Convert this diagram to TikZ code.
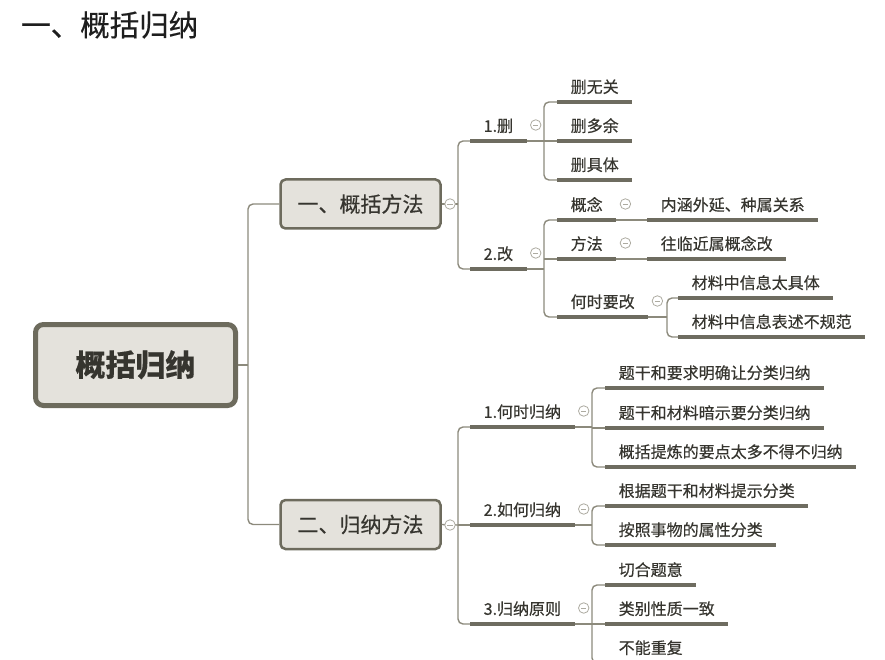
\documentclass[tikz,border=0pt]{standalone}
\usepackage{fontspec}
\newfontfamily\cjk[FakeBold=0.45]{Noto Sans CJK SC}
\newfontfamily\cjkbf{Noto Sans CJK SC Bold}
\usetikzlibrary{calc}
\definecolor{conncol}{HTML}{8C8A7C}
\definecolor{ulcol}{HTML}{6E6C60}
\definecolor{boxfill}{HTML}{E4E2DC}
\definecolor{boxline}{HTML}{6D6B5D}
\definecolor{txtcol}{HTML}{36352F}
\definecolor{collcol}{HTML}{ADABA1}
\definecolor{titlecol}{HTML}{1E1E1E}
\begin{document}
\begin{tikzpicture}[x=1pt,y=-1pt,
  conn/.style={draw=conncol, line width=1.4pt, rounded corners=5pt},
  ul/.style={draw=ulcol, line width=3.2pt},
  leaf/.style={anchor=south west, inner xsep=13.5pt, inner ysep=7pt,
    text height=14pt, text depth=2pt, font=\cjk\fontsize{16}{16}\selectfont, text=txtcol},
  lvone/.style={draw=boxline, fill=boxfill, line width=2.5pt, rounded corners=5pt,
    minimum width=160pt, minimum height=49pt, inner sep=0pt,
    text height=18.5pt, text depth=2.5pt, font=\cjk\fontsize{21}{21}\selectfont, text=txtcol},
  rootbox/.style={draw=boxline, fill=boxfill, line width=5pt, rounded corners=8pt,
    minimum width=200pt, minimum height=81pt, inner sep=0pt,
    text height=26pt, text depth=4pt, font=\cjk\bfseries\fontsize{30}{30}\selectfont, text=txtcol},
  coll/.style={circle, draw=collcol, fill=white, line width=0.8pt, minimum size=10.5pt, inner sep=0pt,
    path picture={\draw[collcol, line width=0.8pt]
      ($(path picture bounding box.center)+(-2.6pt,0pt)$) -- ($(path picture bounding box.center)+(2.6pt,0pt)$);}}
]
\useasboundingbox (0,0) rectangle (885,660);

% title
\node[anchor=west, inner sep=0pt, text height=25.6pt, text depth=3.4pt,
  font=\cjk\fontsize{29.5}{29.5}\selectfont, text=titlecol] (title) at (21,25) {一、概括归纳};

% boxes
\node[rootbox] (root) at (135.5,365) {概括归纳};
\node[lvone] (L1) at (360.5,204) {一、概括方法};
\node[lvone] (L2) at (360.5,524.5) {二、归纳方法};

% first branch
\node[leaf] (a1) at (470,141) {1.删};
\node[leaf] (a2) at (470,269) {2.改};
\node[leaf] (a11) at (557,102) {删无关};
\node[leaf] (a12) at (557,141) {删多余};
\node[leaf] (a13) at (557,180) {删具体};
\node[leaf] (a21) at (557,220) {概念};
\node[leaf] (a22) at (557,259) {方法};
\node[leaf] (a23) at (557,317) {何时要改};
\node[leaf] (a211) at (647,220) {内涵外延、种属关系};
\node[leaf] (a221) at (647,259) {往临近属概念改};
\node[leaf] (a231) at (678,298) {材料中信息太具体};
\node[leaf] (a232) at (678,337) {材料中信息表述不规范};

% second branch
\node[leaf] (b1) at (470,427) {1.何时归纳};
\node[leaf] (b2) at (470,525) {2.如何归纳};
\node[leaf] (b3) at (470,624) {3.归纳原则};
\node[leaf] (b11) at (605,388) {题干和要求明确让分类归纳};
\node[leaf] (b12) at (605,428) {题干和材料暗示要分类归纳};
\node[leaf] (b13) at (605,467) {概括提炼的要点太多不得不归纳};
\node[leaf] (b21) at (605,506) {根据题干和材料提示分类};
\node[leaf] (b22) at (605,545) {按照事物的属性分类};
\node[leaf] (b31) at (605,585) {切合题意};
\node[leaf] (b32) at (605,624) {类别性质一致};
\node[leaf] (b33) at (605,663) {不能重复};

% branch points
\coordinate (kr) at (248,365);
\coordinate (k1) at (458,204);
\coordinate (k2) at (458,525);
\coordinate (ka1) at (544,141);
\coordinate (ka2) at (544,269);
\coordinate (ka23) at (667,317);
\coordinate (kb1) at (592,427);
\coordinate (kb2) at (592,525);
\coordinate (kb3) at (592,624);

% connectors: root
\draw[conn] (root.east) -- (kr);
\draw[conn] (L1.west) -| (kr |- L2.west) -- (L2.west);

% L1
\draw[conn] (L1.east) -- (k1);
\draw[conn] (a1.south west) -| (k1 |- a2.south west) -- (a2.south west);
\draw[conn] (a1.south east) -- (ka1);
\draw[conn] (a11.south west) -| (ka1 |- a13.south west) -- (a13.south west);
\draw[conn] (ka1 |- a12.south west) -- (a12.south west);
\draw[conn] (a2.south east) -- (ka2);
\draw[conn] (a21.south west) -| (ka2 |- a23.south west) -- (a23.south west);
\draw[conn] (ka2 |- a22.south west) -- (a22.south west);
\draw[conn] (a21.south east) -- (a211.south west);
\draw[conn] (a22.south east) -- (a221.south west);
\draw[conn] (a23.south east) -- (ka23);
\draw[conn] (a231.south west) -| (ka23 |- a232.south west) -- (a232.south west);

% L2
\draw[conn] (L2.east) -- (k2);
\draw[conn] (b1.south west) -| (k2 |- b3.south west) -- (b3.south west);
\draw[conn] (k2 |- b2.south west) -- (b2.south west);
\draw[conn] (b1.south east) -- (kb1);
\draw[conn] (b11.south west) -| (kb1 |- b13.south west) -- (b13.south west);
\draw[conn] (kb1 |- b12.south west) -- (b12.south west);
\draw[conn] (b2.south east) -- (kb2);
\draw[conn] (b21.south west) -| (kb2 |- b22.south west) -- (b22.south west);
\draw[conn] (b3.south east) -- (kb3);
\draw[conn] (b31.south west) -| (kb3 |- b33.south west) -- (b33.south west);
\draw[conn] (kb3 |- b32.south west) -- (b32.south west);

% underlines
\foreach \n in {a1,a2,a11,a12,a13,a21,a22,a23,a211,a221,a231,a232,
                b1,b2,b3,b11,b12,b13,b21,b22,b31,b32,b33}
  \draw[ul] (\n.south west) -- (\n.south east);

% collapse icons
\node[coll] (c1) at (450,204) {};
\node[coll] (c2) at (450,525) {};
\foreach \n in {a1,a2,a21,a22,a23,b1,b2,b3}
  \node[coll] (c\n) at ($(\n.south east)+(9,-16)$) {};
\end{tikzpicture}
\end{document}
